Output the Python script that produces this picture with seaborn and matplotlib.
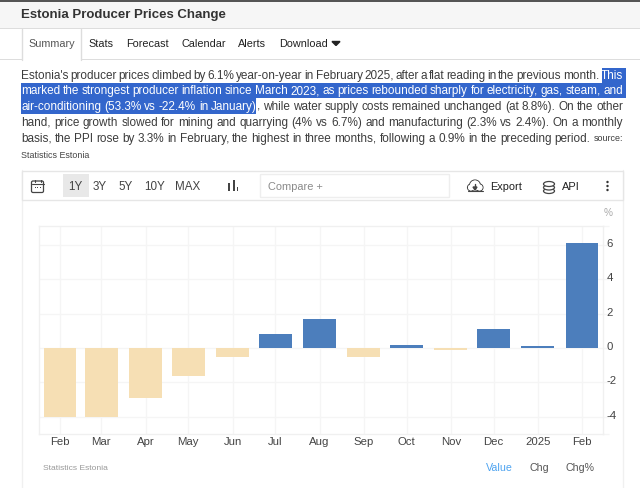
import matplotlib
matplotlib.use("Agg")
import matplotlib.pyplot as plt
import matplotlib.dates as mdates
from matplotlib.patches import Rectangle, Ellipse, Circle, FancyBboxPatch
from matplotlib.transforms import ScaledTranslation
import pandas as pd
import seaborn as sns

# chart data
months = ["2024-02-01", "2024-03-01", "2024-04-01", "2024-05-01", "2024-06-01", "2024-07-01", "2024-08-01",
          "2024-09-01", "2024-10-01", "2024-11-01", "2024-12-01", "2025-01-01", "2025-02-01"]
values = [-4.0, -4.0, -2.9, -1.6, -0.5, 0.8, 1.7, -0.5, 0.2, -0.1, 1.1, 0.1, 6.1]
month_labels = ["Feb", "Mar", "Apr", "May", "Jun", "Jul", "Aug", "Sep", "Oct", "Nov", "Dec", "2025", "Feb"]
y_ticks = [-4, -2, 0, 2, 4, 6]

title = "Estonia Producer Prices Change"
tabs = ["Summary", "Stats", "Forecast", "Calendar", "Alerts", "Download"]
ranges = ["1Y", "3Y", "5Y", "10Y", "MAX"]
body_lines = [
    "Estonia's producer prices climbed by 6.1% year-on-year in February 2025, after a flat reading in the previous month. This",
    "marked the strongest producer inflation since March 2023, as prices rebounded sharply for electricity, gas, steam, and",
    "air-conditioning (53.3% vs -22.4% in January)|, while water supply costs remained unchanged (at 8.8%). On the other",
    "hand, price growth slowed for mining and quarrying (4% vs 6.7%) and manufacturing (2.3% vs 2.4%). On a monthly",
    "basis, the PPI rose by 3.3% in February, the highest in three months, following a 0.9% in the preceding period. source:",
]
# which words of each line are selected
selected = [(18, 19), (0, 99), (0, 6), (0, 0), (0, 0)]

W, H = 640, 488
BLUE = "#4c7ebc"
WHEAT = "#f6dfb4"
GRID = "#f5f5f5"
LINE = "#e6e6e6"
DARK = "#333333"
SEL = "#3366cc"

sns.set_theme(style="white")
plt.rcParams["font.family"] = ["Liberation Sans", "DejaVu Sans"]
plt.rcParams["axes.unicode_minus"] = False

fig = plt.figure(figsize=(W / 100, H / 100), dpi=100, facecolor="white")

# page in pixel coordinates
bg = fig.add_axes([0, 0, 1, 1], zorder=0)
bg.set_xlim(0, W)
bg.set_ylim(H, 0)
bg.axis("off")


def rect(x0, y0, x1, y1, fc="none", ec="none", lw=1.0, z=1):
    bg.add_patch(Rectangle((x0, y0), x1 - x0, y1 - y0, facecolor=fc, edgecolor=ec, linewidth=lw, zorder=z))


def label(x, y, s, size=8.6, color=DARK, ha="left", **kw):
    # y is the middle of the capitals, text sits on a common baseline
    return bg.text(x, y + 0.5 * size, s, fontsize=size, color=color, ha=ha, va="baseline", zorder=5, **kw)


# header and tabs
rect(0, 0, W, 1.5, fc="#555555")
rect(0, 1.5, W, 28, fc="#f6f6f6")
rect(0, 28, W, 29, fc="#dddddd")
rect(0, 59, W, 60, fc="#dddddd")
rect(21.5, 28.5, 81, 60, fc="white", z=2)
bg.plot([21.5, 21.5], [29, 59.5], color="#dddddd", lw=1, zorder=3)
bg.plot([81, 81], [29, 59.5], color="#dddddd", lw=1, zorder=3)
label(21, 13.5, title, size=9.5, weight="bold")
tab_x = [28, 88, 126.5, 181.5, 238, 279.5]
for s, x in zip(tabs, tab_x):
    label(x, 43.5, s, size=7.8, color="#555555" if s == "Summary" else "#222222")
bg.fill([332, 340, 336], [41.5, 41.5, 45.5], color="#222222", zorder=5)

# justified summary text with the selected part
LEFT, RIGHT = 21, 623
line_y = [74.55, 90.05, 105.55, 121.55, 137.55]
rect(601.5, 67.5, 626, 82.5, fc=SEL)
rect(21, 82.5, 626, 98, fc=SEL)
rect(21, 98, 255.5, 114, fc=SEL)
renderer = fig.canvas.get_renderer()
for line, y, (a, b) in zip(body_lines, line_y, selected):
    words = line.split(" ")
    items = []
    for i, w in enumerate(words):
        col = "white" if a <= i < b else "#3c3c3c"
        size = 6.4 if w == "source:" else 8.5
        parts = w.split("|")
        t = label(0, y, parts[0], size=size, color=col)
        glued = None
        if len(parts) > 1:
            glued = label(0, y, parts[1], size=size, color="#3c3c3c")
        items.append((t, glued))
    widths = []
    for t, g in items:
        wd = t.get_window_extent(renderer).width
        if g is not None:
            wd += g.get_window_extent(renderer).width
        widths.append(wd)
    gap = (RIGHT - LEFT - sum(widths)) / (len(items) - 1)
    x = LEFT
    for (t, g), wd in zip(items, widths):
        t.set_x(x)
        if g is not None:
            g.set_x(x + t.get_window_extent(renderer).width)
        x += wd + gap
label(21, 154.5, "Statistics Estonia", size=6.4, color="#444444")

# chart panel and toolbar
bg.plot([22, 22], [170, H], color="#f0f0f0", lw=1, zorder=1)
bg.plot([622.5, 622.5], [170, H], color="#f0f0f0", lw=1, zorder=1)
rect(22, 170.5, 622.5, 199.5, fc="white", ec=LINE, lw=1)
rect(63, 174, 88.5, 197, fc="#e8e8e8", z=2)
range_x = [75.5, 100, 125.5, 154.5, 188]
for s, x in zip(ranges, range_x):
    label(x, 186, s, size=8.4, color="#444444", ha="center")
rect(260, 173.5, 448.5, 197, fc="white", ec="#eeeeee", lw=1)
label(267.5, 186, "Compare +", size=7.9, color="#8a8a8a")
label(490, 186, "Export", size=7.9, color="#222222")
label(562, 186, "API", size=7.9, color="#222222")

# toolbar icons
bg.add_patch(FancyBboxPatch((31.5, 181), 12, 11.5, boxstyle="round,pad=0,rounding_size=1.5",
                            fc="white", ec="#444444", lw=0.9, zorder=5))
bg.plot([31.5, 43.5], [184, 184], color="#444444", lw=0.8, zorder=6)
bg.plot([34.5, 34.5], [179.5, 181.5], color="#444444", lw=0.8, zorder=6)
bg.plot([40.5, 40.5], [179.5, 181.5], color="#444444", lw=0.8, zorder=6)
for x in [35, 37.5, 40]:
    rect(x - 0.5, 186.5, x + 0.5, 187.5, fc="#444444", z=6)
rect(228, 183, 230, 191, fc="#444444", z=5)
rect(232.5, 180, 234.5, 191, fc="#444444", z=5)
rect(236.5, 186.5, 238, 191, fc="#444444", z=5)
for cx, cy, r in [(471, 187.5, 3.5), (475, 185.5, 5.5), (479.5, 187.5, 3.5)]:
    bg.add_patch(Circle((cx, cy), r, fc="white", ec="#444444", lw=0.8, zorder=5))
for cx, cy, r in [(471, 187.5, 3), (475, 185.5, 5), (479.5, 187.5, 3)]:
    bg.add_patch(Circle((cx, cy), r, fc="white", ec="none", zorder=6))
bg.plot([467.5, 483], [191, 191], color="#444444", lw=0.8, zorder=6)
bg.plot([475, 475], [184, 189], color="#444444", lw=1.0, zorder=7)
bg.fill([473, 477, 475], [187, 187, 190], color="#444444", zorder=7)
for cy in [191, 187.5, 184]:
    bg.add_patch(Ellipse((549, cy), 11, 5, fc="white", ec="#444444", lw=0.9, zorder=5 + (191 - cy) * 0.01))
for cy in [182, 186, 190]:
    bg.add_patch(Circle((607.5, cy), 1.2, fc="#333333", ec="none", zorder=5))

# footer of the panel
label(608, 212.5, "%", size=7.2, color="#aaaaaa", ha="center")
label(43, 466.5, "Statistics Estonia", size=6.1, color="#999999")
label(486, 467, "Value", size=7.7, color="#4da3f0")
label(530, 467, "Chg", size=7.7, color="#555555")
label(566, 467, "Chg%", size=7.7, color="#555555")

# the chart itself
df = pd.DataFrame({"month": mdates.date2num(pd.to_datetime(months)), "value": values})
df["sign"] = ["up" if v >= 0 else "down" for v in values]

ax = fig.add_axes([39 / W, 1 - 434 / H, (603 - 39) / W, (434 - 226) / H], zorder=1)
ax.set_facecolor("none")
sns.barplot(data=df, x="month", y="value", hue="sign", palette={"up": BLUE, "down": WHEAT},
            native_scale=True, dodge=False, width=0.79, saturation=1, legend=False, linewidth=0, ax=ax)
ax.set_xlim(df["month"].iloc[0] - 14.7, df["month"].iloc[-1] + 14.7)
ax.set_ylim(-5.0, 7.1)
ax.set_xlabel("")
ax.set_ylabel("")
ax.set_xticks(df["month"])
ax.set_xticklabels(month_labels)
ax.yaxis.tick_right()
ax.set_yticks(y_ticks)
ax.set_yticks([-5.0, 7.1], minor=True)
ax.grid(True, color=GRID, lw=1)
ax.set_axisbelow(True)
ax.tick_params(axis="x", length=0, pad=8.2, labelsize=8.2, labelcolor="#444444")
ax.tick_params(axis="y", which="major", length=4.3, width=1, color=GRID, pad=-2, labelsize=8.2, labelcolor="#444444")
ax.tick_params(axis="y", which="minor", length=4.3, width=1, color=GRID)
for t in ax.get_xticklabels():
    t.set_va("baseline")
for t in ax.get_yticklabels():
    t.set_transform(t.get_transform() + ScaledTranslation(0, 0.02, fig.dpi_scale_trans))
for side in ax.spines:
    ax.spines[side].set_visible(True)
    ax.spines[side].set_color("#f0f0f0")
    ax.spines[side].set_linewidth(1)

fig.savefig("out.png", dpi=100)
